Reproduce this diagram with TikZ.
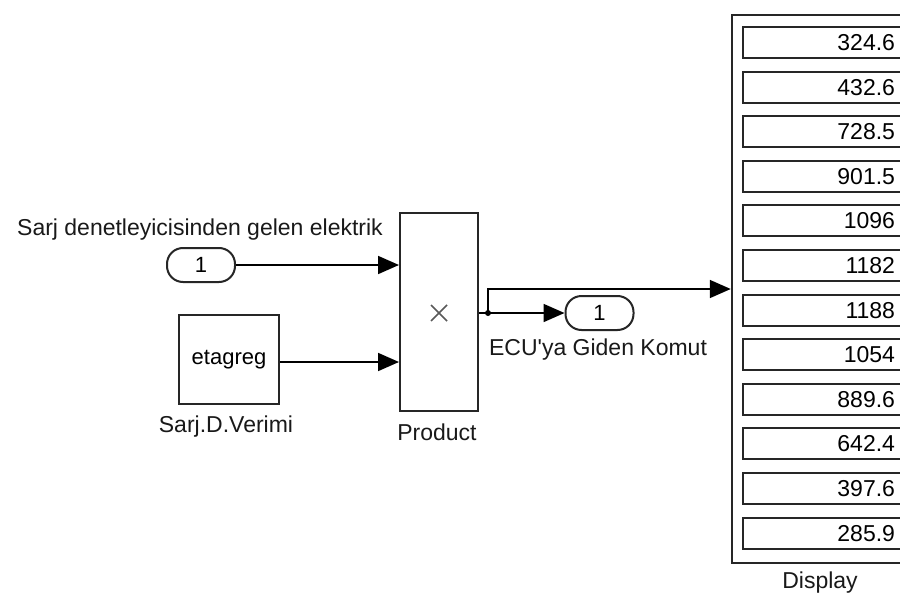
\documentclass[tikz,border=0pt]{standalone}
\usepackage{fontspec}
\setmainfont{Liberation Sans}[Ligatures=TeXOff]
\usetikzlibrary{arrows.meta}
\tikzset{
  lbl/.style={font=\fontsize{23}{27}\selectfont, inner sep=0pt, text=black!90},
  blk/.style={draw=black!85, line width=2pt, fill=white, inner sep=0pt},
  port/.style={blk, rounded corners=16pt, minimum width=68pt, minimum height=34pt, font=\fontsize{22}{26}\selectfont},
  conn/.style={line width=1.8pt, draw=black},
  arr/.style={conn, -{Triangle[length=21pt,width=18pt]}},
  dispbox/.style={draw=black!85, line width=2pt, minimum width=162pt, minimum height=31pt, text width=142pt, inner xsep=10pt, inner ysep=0pt, align=right, font=\fontsize{23}{27}\selectfont},
}
\begin{document}
\begin{tikzpicture}[x=1pt,y=-1pt]
\useasboundingbox (0,0) rectangle (900,597);
\clip (0,0) rectangle (900,597);
\fill[white] (0,0) rectangle (900,597);

% inport
\node[port] (in1) at (201,265) {1};
\node[lbl] (in1lbl) at (200,230) {Sarj denetleyicisinden gelen elektrik};

% constant
\node[blk, minimum width=100pt, minimum height=89pt, font=\fontsize{22}{26}\selectfont] (const) at (229,359.5) {etagreg};
\node[lbl] (constlbl) at (226,427) {Sarj.D.Verimi};

% product
\node[blk, minimum width=78pt, minimum height=198pt] (prod) at (439,312) {};
\draw[line width=1.6pt, black!65] ([shift={(-8,-7)}]prod.center) -- ([shift={(8,9)}]prod.center)
      ([shift={(8,-7)}]prod.center) -- ([shift={(-8,9)}]prod.center);
\node[lbl] (prodlbl) at (437,432) {Product};

% outport
\node[port] (out1) at (599.5,313) {1};
\node[lbl] (out1lbl) at (598,350) {ECU'ya Giden Komut};

% display
\node[draw=black!85, line width=2.5pt, minimum width=188pt, minimum height=548pt, inner sep=0pt] (disp) at (826,289) {};
\node[lbl] (displbl) at (820,583) {Display};
\foreach \v [count=\i from 0] in {324.6,432.6,728.5,901.5,1096,1182,1188,1054,889.6,642.4,397.6,285.9}{
  \node[dispbox] (d\i) at (824,{42.5+44.6*\i}) {\v};
}

% connectors
\draw[arr] (in1.east) -- (prod.west |- in1.east);
\draw[arr] (const.east |- 0,362) -- (prod.west |- 0,362);
\coordinate (br) at (488,313);
\draw[conn] (prod.east |- br) -- (br);
\fill (br) circle (3pt);
\draw[arr] (br) -- (out1.west);
\draw[arr] (br) -- (br |- 0,289) -- (disp.west);
\end{tikzpicture}
\end{document}
